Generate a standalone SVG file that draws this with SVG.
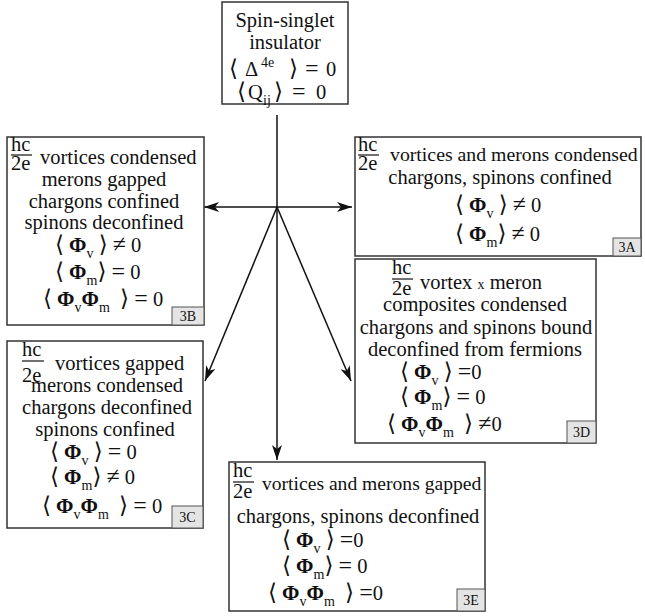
<svg xmlns="http://www.w3.org/2000/svg" width="645" height="616" viewBox="0 0 645 616">
<defs>
<style>
text{font-family:"Liberation Serif","DejaVu Serif",serif;font-size:20.5px;fill:#111}
.m{text-anchor:middle}
.b{font-weight:bold;font-size:21px}
.s{font-size:14px}
.o{font-size:23px}
.r{font-size:24px}
.box{fill:#fff;stroke:#333;stroke-width:1.5}
.lab{fill:#e4e4e4;stroke:#555;stroke-width:1}
.lt{font-size:14px;text-anchor:middle}
.bar{stroke:#111;stroke-width:1.2}
.c{stroke:#111;stroke-width:1.5;fill:none;marker-end:url(#ah)}
</style>
<marker id="ah" viewBox="-16 -6 17 12" refX="0" refY="0" markerWidth="17" markerHeight="12" markerUnits="userSpaceOnUse" orient="auto">
<path d="M0,0 L-15,-5 L-11,0 L-15,5 Z" fill="#111"/>
</marker>
</defs>
<rect width="645" height="616" fill="#fff"/>

<g id="connectors">
<line class="c" x1="277" y1="115" x2="277" y2="460"/>
<line class="c" x1="277" y1="207" x2="204" y2="207"/>
<line class="c" x1="277" y1="207" x2="352" y2="207"/>
<line class="c" x1="277" y1="207" x2="205" y2="381"/>
<line class="c" x1="277" y1="207" x2="351" y2="381"/>
</g>

<g id="top">
<rect class="box" x="222" y="2" width="126" height="102"/>
<text class="m" x="285" y="27">Spin-singlet</text>
<text class="m" x="285" y="49">insulator</text>
<text y="76"><tspan class="o" x="229">⟨</tspan><tspan x="245">Δ</tspan><tspan class="s" x="261" dy="-9">4e</tspan><tspan class="o" x="289" dy="9">⟩</tspan><tspan class="r" x="305">=</tspan><tspan x="326">0</tspan></text>
<text y="99"><tspan class="o" x="237">⟨</tspan><tspan x="248">Q</tspan><tspan class="s" x="263" dy="6">ij</tspan><tspan class="o" x="274" dy="-6">⟩</tspan><tspan class="r" x="292">=</tspan><tspan x="316">0</tspan></text>
</g>

<g id="n3B">
<rect class="box" x="7" y="137" width="197" height="188"/>
<text x="11" y="151">hc</text>
<line class="bar" x1="11" y1="155" x2="32" y2="155"/>
<text x="11" y="170">2e</text>
<text x="40" y="164">vortices condensed</text>
<text class="m" x="104" y="186">merons gapped</text>
<text class="m" x="104" y="208">chargons confined</text>
<text class="m" x="104" y="229">spinons deconfined</text>
<text x="55" y="252"><tspan class="o">⟨</tspan> <tspan class="b">Φ</tspan><tspan class="s" dy="6">v</tspan><tspan dy="-6"> </tspan><tspan class="o">⟩</tspan> <tspan class="r">≠</tspan> 0</text>
<text x="55" y="279"><tspan class="o">⟨</tspan> <tspan class="b">Φ</tspan><tspan class="s" dy="6">m</tspan><tspan class="o" dy="-6">⟩</tspan> <tspan class="r">=</tspan> 0</text>
<text x="43" y="306"><tspan class="o">⟨</tspan> <tspan class="b">Φ</tspan><tspan class="s" dy="6">v</tspan><tspan class="b" dy="-6">Φ</tspan><tspan class="s" dy="6">m</tspan><tspan dy="-6">&#160;&#160;</tspan><tspan class="o">⟩</tspan> <tspan class="r">=</tspan> 0</text>
<rect class="lab" x="172" y="307" width="32" height="18"/>
<text class="lt" x="188" y="321">3B</text>
</g>

<g id="n3A">
<rect class="box" x="355" y="137" width="286" height="119"/>
<text x="358" y="151">hc</text>
<line class="bar" x1="358" y1="155" x2="379" y2="155"/>
<text x="358" y="170">2e</text>
<text x="390" y="161" style="font-size:19.8px">vortices and merons condensed</text>
<text class="m" x="500" y="184">chargons, spinons confined</text>
<text x="455" y="212"><tspan class="o">⟨</tspan> <tspan class="b">Φ</tspan><tspan class="s" dy="6">v</tspan><tspan dy="-6"> </tspan><tspan class="o">⟩</tspan> <tspan class="r">≠</tspan> 0</text>
<text x="455" y="241"><tspan class="o">⟨</tspan> <tspan class="b">Φ</tspan><tspan class="s" dy="6">m</tspan><tspan class="o" dy="-6">⟩</tspan> <tspan class="r">≠</tspan> 0</text>
<rect class="lab" x="613" y="238" width="28" height="18"/>
<text class="lt" x="627" y="252">3A</text>
</g>

<g id="n3D">
<rect class="box" x="355" y="259" width="241" height="184"/>
<text x="392" y="274">hc</text>
<line class="bar" x1="392" y1="279" x2="413" y2="279"/>
<text x="392" y="295">2e</text>
<text x="420" y="289">vortex <tspan class="s">x</tspan> meron</text>
<text class="m" x="475" y="311">composites condensed</text>
<text class="m" x="476" y="334">chargons and spinons bound</text>
<text class="m" x="475" y="356">deconfined from fermions</text>
<text x="400" y="379"><tspan class="o">⟨</tspan> <tspan class="b">Φ</tspan><tspan class="s" dy="6">v</tspan><tspan dy="-6"> </tspan><tspan class="o">⟩</tspan> <tspan class="r">=</tspan>0</text>
<text x="400" y="404"><tspan class="o">⟨</tspan> <tspan class="b">Φ</tspan><tspan class="s" dy="6">m</tspan><tspan class="o" dy="-6">⟩</tspan> <tspan class="r">=</tspan> 0</text>
<text x="387" y="431"><tspan class="o">⟨</tspan> <tspan class="b">Φ</tspan><tspan class="s" dy="6">v</tspan><tspan class="b" dy="-6">Φ</tspan><tspan class="s" dy="6">m</tspan><tspan dy="-6">&#160;&#160;</tspan><tspan class="o">⟩</tspan> <tspan class="r">≠</tspan>0</text>
<rect class="lab" x="567" y="421" width="29" height="22"/>
<text class="lt" x="581.5" y="437">3D</text>
</g>

<g id="n3C">
<rect class="box" x="7" y="341" width="196" height="187"/>
<text x="22" y="356">hc</text>
<line class="bar" x1="22" y1="361" x2="44" y2="361"/>
<text x="22" y="382">2e</text>
<text x="55" y="370">vortices gapped</text>
<text class="m" x="107" y="392">merons condensed</text>
<text class="m" x="107" y="414">chargons deconfined</text>
<text class="m" x="105" y="436">spinons confined</text>
<text x="50" y="459"><tspan class="o">⟨</tspan> <tspan class="b">Φ</tspan><tspan class="s" dy="6">v</tspan><tspan dy="-6"> </tspan><tspan class="o">⟩</tspan> <tspan class="r">=</tspan> 0</text>
<text x="50" y="484"><tspan class="o">⟨</tspan> <tspan class="b">Φ</tspan><tspan class="s" dy="6">m</tspan><tspan class="o" dy="-6">⟩</tspan> <tspan class="r">≠</tspan> 0</text>
<text x="42" y="513"><tspan class="o">⟨</tspan> <tspan class="b">Φ</tspan><tspan class="s" dy="6">v</tspan><tspan class="b" dy="-6">Φ</tspan><tspan class="s" dy="6">m</tspan><tspan dy="-6">&#160;&#160;</tspan><tspan class="o">⟩</tspan> <tspan class="r">=</tspan> 0</text>
<rect class="lab" x="172" y="506" width="31" height="22"/>
<text class="lt" x="187.5" y="522">3C</text>
</g>

<g id="n3E">
<rect class="box" x="229" y="462" width="256" height="149"/>
<text x="233" y="477">hc</text>
<line class="bar" x1="233" y1="482" x2="254" y2="482"/>
<text x="233" y="498">2e</text>
<text x="262" y="490" style="font-size:19.6px">vortices and merons gapped</text>
<text class="m" x="358" y="523">chargons, spinons deconfined</text>
<text x="282" y="547"><tspan class="o">⟨</tspan> <tspan class="b">Φ</tspan><tspan class="s" dy="6">v</tspan><tspan dy="-6"> </tspan><tspan class="o">⟩</tspan> <tspan class="r">=</tspan>0</text>
<text x="282" y="573"><tspan class="o">⟨</tspan> <tspan class="b">Φ</tspan><tspan class="s" dy="6">m</tspan><tspan class="o" dy="-6">⟩</tspan> <tspan class="r">=</tspan> 0</text>
<text x="268" y="600"><tspan class="o">⟨</tspan> <tspan class="b">Φ</tspan><tspan class="s" dy="6">v</tspan><tspan class="b" dy="-6">Φ</tspan><tspan class="s" dy="6">m</tspan><tspan dy="-6">&#160;&#160;</tspan><tspan class="o">⟩</tspan> <tspan class="r">=</tspan>0</text>
<rect class="lab" x="457" y="589" width="28" height="22"/>
<text class="lt" x="471" y="605">3E</text>
</g>
</svg>
